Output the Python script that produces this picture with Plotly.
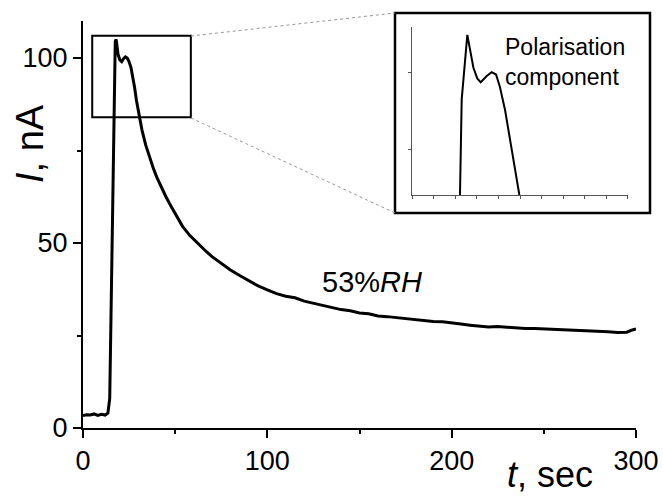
import plotly.graph_objects as go

# Main transient current curve (t in sec, I in nA)
t_main = [0, 2, 4, 6, 8, 10, 12, 13.5, 14.5, 15.2, 16, 16.8, 17.5, 18, 19, 20, 21, 22, 23, 24,
          25, 26, 27, 28, 29, 30, 31, 32, 34, 36, 38, 40, 42.5, 45, 48, 51, 54, 58, 62, 66,
          70, 75, 80, 85, 90, 95, 100, 105, 110, 115, 120, 125, 130, 135, 140, 145, 150, 155,
          160, 165, 170, 175, 180, 185, 190, 195, 200, 205, 210, 215, 220, 225, 230, 235, 240,
          245, 250, 255, 260, 265, 270, 275, 280, 285, 290, 295, 298, 300]
i_main = [3.4, 3.6, 3.5, 3.8, 3.4, 3.7, 3.5, 4.0, 8.0, 30.0, 65.0, 92.0, 104.5, 105.0, 101.0,
          99.5, 99.0, 99.8, 100.3, 100.0, 99.0, 97.5, 95.0, 92.0, 88.5, 85.5, 83.0, 80.5, 76.5,
          73.2, 70.4, 67.8, 65.0, 62.5, 59.7, 57.0, 54.5, 52.0, 50.0, 48.1, 46.3, 44.4, 42.7,
          41.2, 39.7, 38.4, 37.3, 36.3, 35.6, 35.2, 34.3, 33.7, 33.0, 32.6, 32.0, 31.7, 31.1,
          30.9, 30.3, 30.1, 29.8, 29.6, 29.2, 29.1, 28.8, 28.7, 28.3, 28.1, 27.8, 27.6, 27.3,
          27.4, 27.2, 27.0, 26.9, 26.9, 26.8, 26.6, 26.5, 26.6, 26.4, 26.3, 26.2, 26.0, 25.8,
          25.9, 26.5, 26.8]

# Inset: polarisation component (arbitrary units)
t_inset = [2.22, 2.30, 2.56, 2.84, 3.02, 3.18, 3.46, 3.69, 3.89, 4.07, 4.31, 4.54, 4.77, 4.97]
i_inset = [0.42, 1.65, 2.48, 2.06, 1.92, 1.87, 1.95, 2.00, 1.97, 1.81, 1.51, 1.13, 0.74, 0.42]

# Zoom window in data coordinates
zoom_t = [5, 58.5]
zoom_i = [84, 106]

FONT = "Liberation Sans, Arial, sans-serif"

fig = go.Figure()
fig.add_trace(go.Scatter(x=t_main, y=i_main, mode="lines",
                         line=dict(color="black", width=3), xaxis="x", yaxis="y",
                         showlegend=False, hoverinfo="skip"))
fig.add_trace(go.Scatter(x=t_inset, y=i_inset, mode="lines",
                         line=dict(color="black", width=2), xaxis="x2", yaxis="y2",
                         showlegend=False, hoverinfo="skip"))

# zoom rectangle on main axes
fig.add_shape(type="rect", xref="x", yref="y", x0=zoom_t[0], x1=zoom_t[1],
              y0=zoom_i[0], y1=zoom_i[1], line=dict(color="black", width=2))

# inset frame and connectors (paper coords)
fig.add_shape(type="rect", xref="paper", yref="paper", x0=0.5642, x1=1.0253,
              y0=0.5283, y1=1.0197, line=dict(color="black", width=2.5))
fig.add_shape(type="line", xref="paper", yref="paper", x0=0.1953, y0=0.9631,
              x1=0.5642, y1=1.0197, line=dict(color="#999999", width=1, dash="dot"))
fig.add_shape(type="line", xref="paper", yref="paper", x0=0.1953, y0=0.7617,
              x1=0.5642, y1=0.5283, line=dict(color="#999999", width=1, dash="dot"))

fig.add_annotation(x=157, y=39.5, xref="x", yref="y", text="53%<i>RH</i>",
                   showarrow=False, font=dict(size=29, color="black", family=FONT))
fig.add_annotation(x=4.2, y=2.13, xref="x2", yref="y2", text="Polarisation<br>component",
                   showarrow=False, xanchor="left", yanchor="middle", align="left",
                   font=dict(size=23, color="black", family=FONT))
fig.add_annotation(x=0.8445, y=-0.115, xref="paper", yref="paper", text="<i>t</i>, sec",
                   showarrow=False, xanchor="center", yanchor="middle",
                   font=dict(size=36, color="black", family=FONT))
fig.add_annotation(x=-0.096, y=0.700, xref="paper", yref="paper", text="<i>I</i>, nA",
                   showarrow=False, textangle=-90, xanchor="center", yanchor="middle",
                   font=dict(size=38, color="black", family=FONT))

fig.update_layout(
    width=663, height=497,
    margin=dict(l=83, r=27, t=21, b=69),
    paper_bgcolor="white", plot_bgcolor="white",
    font=dict(family=FONT, color="black", size=27),
    xaxis=dict(range=[0, 300], tickvals=[0, 100, 200, 300], ticks="outside", ticklen=8,
               tickwidth=2, tickcolor="black", showline=True, linewidth=2, linecolor="black",
               showgrid=False, zeroline=False, automargin=False,
               minor=dict(ticks="outside", ticklen=4, tickwidth=2, tickcolor="black",
                          dtick=50, tick0=0, showgrid=False),
               tickfont=dict(size=27)),
    yaxis=dict(range=[0, 110], tickvals=[0, 50, 100], ticks="outside", ticklen=8,
               tickwidth=2, tickcolor="black", showline=True, linewidth=2, linecolor="black",
               showgrid=False, zeroline=False, automargin=False,
               minor=dict(ticks="outside", ticklen=4, tickwidth=2, tickcolor="black",
                          dtick=25, tick0=0, showgrid=False),
               tickfont=dict(size=27)),
    xaxis2=dict(domain=[0.595, 0.9855], range=[0, 10], anchor="y2", dtick=1, tick0=0,
                ticks="outside", ticklen=3, tickwidth=1, tickcolor="#555555",
                showticklabels=False, showline=True, linewidth=1, linecolor="#555555",
                showgrid=False, zeroline=False, automargin=False),
    yaxis2=dict(domain=[0.5725, 0.985], range=[0.42, 2.58], anchor="x2", tickvals=[1, 2],
                ticks="outside", ticklen=3, tickwidth=1, tickcolor="#555555",
                showticklabels=False, showline=True, linewidth=1, linecolor="#555555",
                showgrid=False, zeroline=False, automargin=False),
)

fig.write_html("out.html")
